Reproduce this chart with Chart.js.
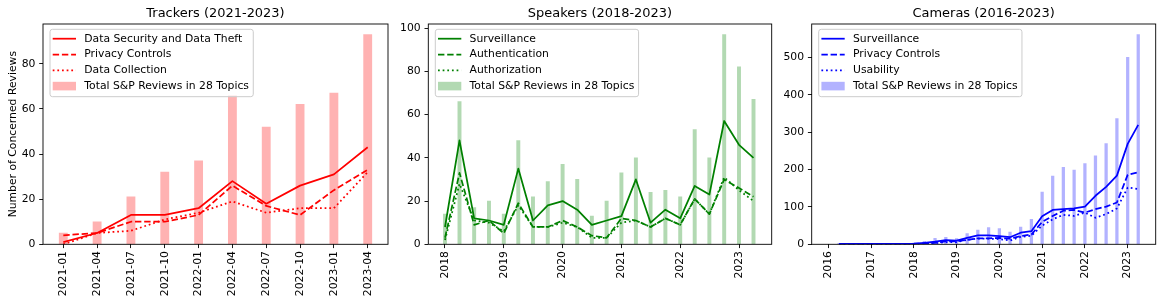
<!DOCTYPE html>
<html><head><meta charset="utf-8">
<script src="https://cdn.jsdelivr.net/npm/chart.js@4"></script>
<style>
html,body{margin:0;padding:0;background:#fff;width:1163px;height:305px;overflow:hidden;}
canvas{position:absolute;top:0;}
</style>
</head><body>
<canvas id="c1" width="392" height="305" style="left:0px"></canvas>
<canvas id="c2" width="390" height="305" style="left:392px"></canvas>
<canvas id="c3" width="381" height="305" style="left:782px"></canvas>
<script>
// ---------------- DATA ----------------
// Trackers (2021-2023)
const trackerQuarters = ['2021-01','2021-04','2021-07','2021-10','2022-01','2022-04','2022-07','2022-10','2023-01','2023-04'];
const trackerTotal      = [5, 10, 21, 32, 37, 66, 52, 62, 67, 93];
const trackerSecurity   = [1, 5, 13, 13, 16, 28, 18, 26, 31, 43];
const trackerPrivacy    = [4, 5, 10, 10, 13, 26, 17, 13, 24, 33];
const trackerCollection = [0, 5, 6, 11, 14, 19, 14, 16, 16, 32];

// Speakers (2018-2023)
const speakerQuarters = ['2018-01','2018-04','2018-07','2018-10','2019-01','2019-04','2019-07','2019-10',
  '2020-01','2020-04','2020-07','2020-10','2021-01','2021-04','2021-07','2021-10',
  '2022-01','2022-04','2022-07','2022-10','2023-01','2023-04'];
const speakerTotal          = [14, 66, 17, 20, 14, 48, 22, 29, 37, 30, 13, 20, 33, 40, 24, 25, 22, 53, 40, 97, 82, 67];
const speakerSurveillance   = [8, 48, 12, 11, 9, 35, 11, 18, 20, 16, 9, 11, 13, 30, 10, 16, 12, 27, 23, 57, 46, 40];
const speakerAuthentication = [3, 33, 9, 11, 5, 19, 8, 8, 11, 8, 4, 3, 12, 11, 8, 12, 9, 21, 14, 30, 26, 22];
const speakerAuthorization  = [2, 28, 11, 10, 6, 18, 8, 8, 10, 8, 3, 3, 10, 11, 8, 12, 9, 21, 14, 31, 25, 20];

// Cameras (2016-2023)
const cameraQuarters = ['2016-04','2016-07','2016-10','2017-01','2017-04','2017-07','2017-10',
  '2018-01','2018-04','2018-07','2018-10','2019-01','2019-04','2019-07','2019-10',
  '2020-01','2020-04','2020-07','2020-10','2021-01','2021-04','2021-07','2021-10',
  '2022-01','2022-04','2022-07','2022-10','2023-01','2023-04'];
const cameraTotal        = [2, 1, 1, 1, 1, 1, 1, 3, 8, 16, 19, 15, 29, 38, 45, 42, 33, 46, 67, 140, 183, 206, 199, 216, 237, 270, 337, 501, 562];
const cameraSurveillance = [1, 1, 1, 1, 1, 1, 1, 2, 4, 7, 11, 10, 17, 24, 24, 22, 19, 31, 35, 75, 92, 94, 96, 101, 130, 154, 184, 269, 320];
const cameraPrivacy      = [0, 0, 0, 0, 0, 0, 0, 1, 3, 4, 8, 8, 12, 16, 16, 17, 15, 22, 26, 60, 76, 90, 92, 85, 94, 101, 112, 186, 193];
const cameraUsability    = [0, 0, 0, 0, 0, 0, 0, 0, 2, 3, 6, 6, 12, 15, 15, 14, 10, 20, 23, 50, 67, 79, 76, 85, 71, 81, 96, 152, 148];

// Tick labels
const speakerYears = [2018, 2019, 2020, 2021, 2022, 2023];
const cameraYears  = [2016, 2017, 2018, 2019, 2020, 2021, 2022, 2023];
const trackerYTicks = [0, 20, 40, 60, 80];
const speakerYTicks = [0, 20, 40, 60, 80, 100];
const cameraYTicks  = [0, 100, 200, 300, 400, 500];

// ---------------- HELPERS ----------------
const FONT = "'DejaVu Sans', sans-serif";
Chart.defaults.font.family = FONT;
Chart.defaults.color = '#000';

function qToYear(s) {
  const [y, m] = s.split('-').map(Number);
  const a = Date.UTC(y, m - 1, 1), b = Date.UTC(y, 0, 1), c = Date.UTC(y + 1, 0, 1);
  return y + (a - b) / (c - b);
}

const LW = 1.75;
const DASHED = [6.4, 2.8];
const DOTTED = [1.75, 2.9];

const decorPlugin = {
  id: 'decor',
  afterDraw(chart) {
    const ctx = chart.ctx, a = chart.chartArea;
    const o = chart.options.plugins.decor;
    ctx.save();
    // legend
    ctx.font = '10.8px ' + FONT;
    const items = chart.data.datasets.map(ds => ({
      label: ds.label, type: ds.type, color: ds.type === 'bar' ? ds.backgroundColor : ds.borderColor,
      dash: ds.borderDash || []
    }));
    const maxW = Math.max(...items.map(i => ctx.measureText(i.label).width));
    const x0 = a.left + 7, y0 = a.top + 5.3, w = 34.3 + maxW + 4.3, h = 67.4, r = 2.5;
    ctx.beginPath();
    ctx.moveTo(x0 + r, y0); ctx.lineTo(x0 + w - r, y0); ctx.arcTo(x0 + w, y0, x0 + w, y0 + r, r);
    ctx.lineTo(x0 + w, y0 + h - r); ctx.arcTo(x0 + w, y0 + h, x0 + w - r, y0 + h, r);
    ctx.lineTo(x0 + r, y0 + h); ctx.arcTo(x0, y0 + h, x0, y0 + h - r, r);
    ctx.lineTo(x0, y0 + r); ctx.arcTo(x0, y0, x0 + r, y0, r); ctx.closePath();
    ctx.fillStyle = 'rgba(255,255,255,0.8)'; ctx.fill();
    ctx.strokeStyle = '#cccccc'; ctx.lineWidth = 1; ctx.stroke();
    items.forEach((it, i) => {
      const cy = y0 + 9.4 + i * 15.8;
      if (it.type === 'bar') {
        ctx.fillStyle = it.color; ctx.fillRect(x0 + 2.7, cy - 4.3, 23.3, 8.6);
      } else {
        ctx.strokeStyle = it.color; ctx.lineWidth = LW; ctx.setLineDash(it.dash);
        ctx.beginPath(); ctx.moveTo(x0 + 2.7, cy); ctx.lineTo(x0 + 26, cy); ctx.stroke();
        ctx.setLineDash([]);
      }
      ctx.fillStyle = '#000'; ctx.textAlign = 'left'; ctx.textBaseline = 'middle';
      ctx.fillText(it.label, x0 + 34.3, cy);
    });
    // axes frame
    ctx.strokeStyle = '#000'; ctx.lineWidth = 0.9;
    ctx.strokeRect(a.left, a.top, a.right - a.left, a.bottom - a.top);
    // title
    ctx.font = '12.96px ' + FONT; ctx.fillStyle = '#000';
    ctx.textAlign = 'center'; ctx.textBaseline = 'middle';
    ctx.fillText(o.title, (a.left + a.right) / 2, 14);
    ctx.restore();
  }
};

function makePanel(p) {
  const datasets = p.lines.map(l => ({
    type: 'line', label: l.label, order: 0,
    data: p.xs.map((x, i) => ({ x: x, y: l.data[i] })),
    borderColor: p.color, borderWidth: LW, borderDash: l.dash, borderJoinStyle: 'round',
    pointRadius: 0, tension: 0, fill: false
  }));
  datasets.push({
    type: 'bar', label: 'Total S&P Reviews in 28 Topics', order: 1,
    data: p.xs.map((x, i) => ({ x: x, y: p.total[i] })),
    backgroundColor: p.barColor, borderWidth: 0, barThickness: p.barThickness
  });
  return new Chart(document.getElementById(p.canvas), {
    type: 'line',
    data: { datasets },
    plugins: [decorPlugin],
    options: {
      responsive: false, animation: false, events: [],
      layout: { padding: { left: 0, right: p.rightPad, top: 24, bottom: 0 } },
      plugins: { legend: { display: false }, tooltip: { enabled: false }, title: { display: false },
        decor: { title: p.title } },
      scales: {
        x: {
          type: 'linear', min: p.xMin, max: p.xMax, offset: false,
          afterBuildTicks: s => { s.ticks = p.xTicks.map(v => ({ value: v })); },
          afterFit: s => { s.height = 305 - 244.3; },
          grid: { display: true, drawOnChartArea: false, drawTicks: true, tickLength: 3.8, color: '#000', lineWidth: 0.9, offset: false },
          border: { display: false },
          ticks: { autoSkip: false, maxRotation: 90, minRotation: 90, padding: 3, font: { size: 10.8 },
            callback: v => p.xLabel(v) }
        },
        y: {
          type: 'linear', min: 0, max: p.yMax,
          afterBuildTicks: s => { s.ticks = p.yTicks.map(v => ({ value: v })); },
          afterFit: s => { s.width = p.yWidth; },
          grid: { display: true, drawOnChartArea: false, drawTicks: true, tickLength: 3.8, color: '#000', lineWidth: 0.9 },
          border: { display: false },
          ticks: { padding: 3.8, font: { size: 10.8 }, callback: v => String(v) },
          title: p.yTitle ? { display: true, text: p.yTitle, font: { size: 10.8 }, padding: { top: 6.3, bottom: 0 } } : { display: false }
        }
      }
    }
  });
}

makePanel({
  canvas: 'c1', title: 'Trackers (2021-2023)', color: '#ff0000', barColor: 'rgba(255,0,0,0.3)',
  xs: trackerQuarters.map((q, i) => i), xMin: -0.6, xMax: 9.6,
  xTicks: trackerQuarters.map((q, i) => i), xLabel: v => trackerQuarters[v],
  yMax: 97.65, yTicks: trackerYTicks, yWidth: 43, rightPad: 4, yTitle: 'Number of Concerned Reviews',
  barThickness: 8.2, total: trackerTotal,
  lines: [
    { label: 'Data Security and Data Theft', data: trackerSecurity, dash: [] },
    { label: 'Privacy Controls', data: trackerPrivacy, dash: DASHED },
    { label: 'Data Collection', data: trackerCollection, dash: DOTTED }
  ]
});

makePanel({
  canvas: 'c2', title: 'Speakers (2018-2023)', color: '#008000', barColor: 'rgba(0,128,0,0.3)',
  xs: speakerQuarters.map(qToYear), xMin: 2017.716, xMax: 2023.556,
  xTicks: speakerYears, xLabel: v => String(v),
  yMax: 101.85, yTicks: speakerYTicks, yWidth: 36.3, rightPad: 10.3, yTitle: null,
  barThickness: 3.3, total: speakerTotal,
  lines: [
    { label: 'Surveillance', data: speakerSurveillance, dash: [] },
    { label: 'Authentication', data: speakerAuthentication, dash: DASHED },
    { label: 'Authorization', data: speakerAuthorization, dash: DOTTED }
  ]
});

makePanel({
  canvas: 'c3', title: 'Cameras (2016-2023)', color: '#0000ff', barColor: 'rgba(0,0,255,0.3)',
  xs: cameraQuarters.map(qToYear), xMin: 2015.612, xMax: 2023.655,
  xTicks: cameraYears, xLabel: v => String(v),
  yMax: 590.1, yTicks: cameraYTicks, yWidth: 29.7, rightPad: 7.3, yTitle: null,
  barThickness: 2.6, total: cameraTotal,
  lines: [
    { label: 'Surveillance', data: cameraSurveillance, dash: [] },
    { label: 'Privacy Controls', data: cameraPrivacy, dash: DASHED },
    { label: 'Usability', data: cameraUsability, dash: DOTTED }
  ]
});
</script>
</body></html>
